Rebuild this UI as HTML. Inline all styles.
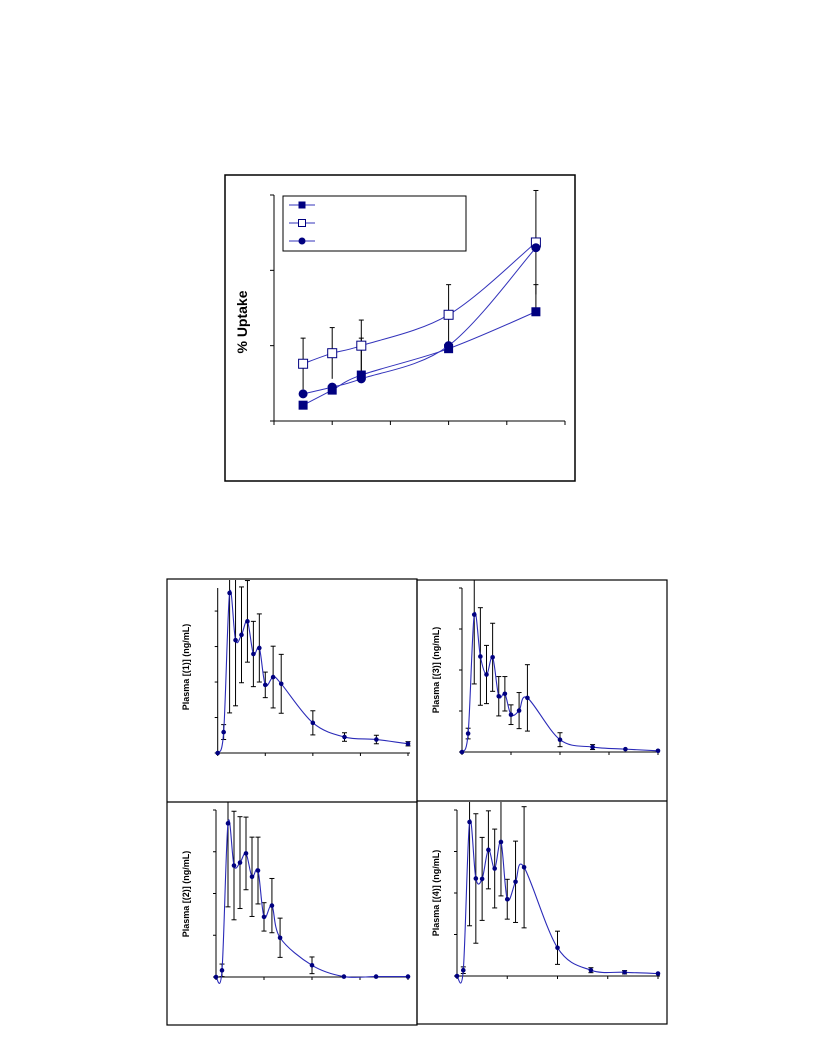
<!DOCTYPE html>
<html><head><meta charset="utf-8">
<style>
html,body{margin:0;padding:0;background:#fff;}
svg{display:block;font-family:"Liberation Sans",Arial,sans-serif;}
</style></head>
<body>
<svg id="s" width="816" height="1056" viewBox="0 0 816 1056" xmlns="http://www.w3.org/2000/svg">
<rect x="225" y="175" width="350" height="306" fill="none" stroke="#000" stroke-width="1.5"/>
<rect x="283" y="196" width="183" height="55" fill="#fff" stroke="#000" stroke-width="1"/>
<text x="0" y="0" transform="translate(247,322) rotate(-90)" text-anchor="middle" font-size="14" font-weight="bold">% Uptake</text>
<rect x="167" y="579" width="250" height="446" fill="none" stroke="#000" stroke-width="1.2"/>
<line x1="167" y1="802" x2="417" y2="802" stroke="#000" stroke-width="1.2"/>
<rect x="417" y="580" width="250" height="444" fill="none" stroke="#000" stroke-width="1.2"/>
<line x1="417" y1="801" x2="667" y2="801" stroke="#000" stroke-width="1.2"/>
</svg>
<script>
// ---- Uptake chart data ----
const uptakeX = [0.5, 1, 1.5, 3, 4.5];
const uptakeFilledSq = [0.21, 0.41, 0.61, 0.96, 1.45];
const uptakeOpenSq = [0.76, 0.90, 1.00, 1.41, 2.37];
const uptakeCircle = [0.36, 0.45, 0.56, 1.00, 2.30];
const uptakeOpenSqErr = [0.34, 0.34, 0.34, 0.40, 0.69];
const uptakeFilledSqErr = [0, 0, 0.49, 0, 0.36];

// ---- Plasma panels data ----
const plasmaTimes = [0, 0.25, 0.5, 0.75, 1, 1.25, 1.5, 1.75, 2, 2.33, 2.67, 4, 5.33, 6.67, 8];
const plasma1 = [0, 0.59, 4.51, 3.18, 3.33, 3.71, 2.79, 2.96, 1.92, 2.14, 1.95, 0.85, 0.45, 0.38, 0.26];
const plasma1Err = [0, 0.21, 3.38, 1.85, 1.35, 1.15, 0.92, 0.96, 0.36, 0.87, 0.83, 0.34, 0.12, 0.12, 0.06];
const plasma3 = [0, 0.45, 3.35, 2.33, 1.89, 2.31, 1.36, 1.42, 0.91, 1.01, 1.32, 0.30, 0.12, 0.07, 0.03];
const plasma3Err = [0, 0.13, 1.69, 1.19, 0.71, 0.83, 0.48, 0.42, 0.24, 0.44, 0.81, 0.17, 0.06, 0.02, 0.02];
const plasma2 = [0, 0.16, 3.68, 2.67, 2.74, 2.96, 2.40, 2.55, 1.44, 1.71, 0.94, 0.28, 0.01, 0.01, 0.01];
const plasma2Err = [0, 0.15, 2.0, 1.3, 1.1, 0.87, 0.95, 0.8, 0.34, 0.65, 0.47, 0.2, 0, 0, 0];
const plasma4 = [0, 0.14, 3.71, 2.35, 2.34, 3.04, 2.59, 3.23, 1.85, 2.27, 2.62, 0.68, 0.14, 0.09, 0.06];
const plasma4Err = [0, 0.08, 2.5, 1.56, 1.0, 0.94, 0.95, 1.3, 0.48, 0.98, 1.46, 0.4, 0.06, 0.04, 0.03];
const plasmaLabels = ["Plasma [(1)] (ng/mL)", "Plasma [(3)] (ng/mL)", "Plasma [(2)] (ng/mL)", "Plasma [(4)] (ng/mL)"];

const NS = "http://www.w3.org/2000/svg";
const svg = document.getElementById("s");
function mk(tag, attrs, parent) {
  const e = document.createElementNS(NS, tag);
  for (const k in attrs) e.setAttribute(k, attrs[k]);
  (parent || svg).appendChild(e);
  return e;
}
function spline(pts) {
  let d = "M" + pts[0][0] + "," + pts[0][1];
  for (let i = 0; i < pts.length - 1; i++) {
    const p0 = pts[Math.max(0, i - 1)], p1 = pts[i], p2 = pts[i + 1], p3 = pts[Math.min(pts.length - 1, i + 2)];
    const t = 1 / 6;
    const c1 = [p1[0] + (p2[0] - p0[0]) * t, p1[1] + (p2[1] - p0[1]) * t];
    const c2 = [p2[0] - (p3[0] - p1[0]) * t, p2[1] - (p3[1] - p1[1]) * t];
    d += " C" + c1[0] + "," + c1[1] + " " + c2[0] + "," + c2[1] + " " + p2[0] + "," + p2[1];
  }
  return d;
}
function errBar(g, x, yTop, yBot, capTop, capBot, clipTop) {
  const top = Math.max(yTop, clipTop);
  const l = mk("line", {x1: x, y1: top, x2: x, y2: yBot, stroke: "#000", "stroke-width": 1}, g);
  
  
  if (capTop && yTop >= clipTop) mk("line", {x1: x - 2.5, y1: yTop, x2: x + 2.5, y2: yTop, stroke: "#000", "stroke-width": 1}, g);
  if (capBot) mk("line", {x1: x - 2.5, y1: yBot, x2: x + 2.5, y2: yBot, stroke: "#000", "stroke-width": 1}, g);
}

// ---- Uptake chart ----
(function () {
  const X0 = 274, X1 = 565, Y0 = 421, YT = 195;
  const xs = v => X0 + v / 5 * (X1 - X0);
  const ys = v => Y0 - v / 3 * (Y0 - YT);
  const g = mk("g", {});
  
  
  const ax = mk("path", {d: `M${X0},${YT} V${Y0} H${X1}`, fill: "none", stroke: "#000", "stroke-width": 1}, g);
  
  
  for (let i = 0; i <= 3; i++) mk("line", {x1: X0 - 4, x2: X0, y1: ys(i), y2: ys(i), stroke: "#000"}, g);
  for (let i = 0; i <= 5; i++) mk("line", {x1: xs(i), x2: xs(i), y1: Y0, y2: Y0 + 4, stroke: "#000"}, g);
  // errors
  uptakeX.forEach((x, i) => {
    const yc = ys(uptakeOpenSq[i]);
    errBar(g, xs(x), ys(uptakeOpenSq[i] + uptakeOpenSqErr[i]), ys(uptakeOpenSq[i] - uptakeOpenSqErr[i]), true, false, 0);
    if (uptakeFilledSqErr[i] > 0) errBar(g, xs(x), ys(uptakeFilledSq[i] + uptakeFilledSqErr[i]), ys(uptakeFilledSq[i]), true, false, 0);
  });
  const series = [[uptakeFilledSq, "fsq"], [uptakeOpenSq, "osq"], [uptakeCircle, "circ"]];
  series.forEach(([vals, kind]) => {
    const pts = uptakeX.map((x, i) => [xs(x), ys(vals[i])]);
    const p = mk("path", {d: spline(pts), fill: "none", stroke: "#3333bb", "stroke-width": 1}, g);
    
    
    pts.forEach(pt => {
      let m;
      if (kind === "fsq") m = mk("rect", {x: pt[0] - 4.5, y: pt[1] - 4.5, width: 9, height: 9, fill: "#000080"}, g);
      else if (kind === "osq") m = mk("rect", {x: pt[0] - 4.5, y: pt[1] - 4.5, width: 9, height: 9, fill: "#fff", stroke: "#000080", "stroke-width": 1}, g);
      else m = mk("circle", {cx: pt[0], cy: pt[1], r: 4.5, fill: "#000080"}, g);
      
      
    });
  });
  // legend entries
  const ly = [205, 223, 241];
  ["fsq", "osq", "circ"].forEach((kind, i) => {
    mk("line", {x1: 289, x2: 315, y1: ly[i], y2: ly[i], stroke: "#3333bb", "stroke-width": 1});
    let m;
    if (kind === "fsq") m = mk("rect", {x: 298.5, y: ly[i] - 3.5, width: 7, height: 7, fill: "#000080"});
    else if (kind === "osq") m = mk("rect", {x: 298.5, y: ly[i] - 3.5, width: 7, height: 7, fill: "#fff", stroke: "#000080"});
    else m = mk("circle", {cx: 302, cy: ly[i], r: 3.5, fill: "#000080"});
    
    
  });
})();

// ---- Plasma panels ----
function panel(idx, vals, errs, X0, X1, Y0, YT, ymax, labelX, labelY) {
  const xs = t => X0 + t / 8 * (X1 - X0);
  const tickPx = (Y0 - YT) / ymax;
  const ys = v => Y0 - v * tickPx;
  const g = mk("g", {});
  
  
  const ax = mk("path", {d: `M${X0},${YT} V${Y0} H${X1 + 2}`, fill: "none", stroke: "#000", "stroke-width": 1}, g);
  
  
  for (let v = 0; ys(v) >= YT - 0.5; v++) mk("line", {x1: X0 - 3, x2: X0, y1: ys(v), y2: ys(v), stroke: "#000"}, g);
  for (let t = 0; t <= 8; t += 2) mk("line", {x1: xs(t), x2: xs(t), y1: Y0, y2: Y0 + 3, stroke: "#000"}, g);
  plasmaTimes.forEach((t, i) => {
    if (errs[i] > 0.03) errBar(g, xs(t), ys(vals[i] + errs[i]), ys(vals[i] - errs[i]), true, true, YT - 8);
  });
  const pts = plasmaTimes.map((t, i) => [xs(t), ys(vals[i])]);
  const p = mk("path", {d: spline(pts), fill: "none", stroke: "#2a2ab8", "stroke-width": 1.1}, g);
  
  
  pts.forEach(pt => {
    const c = mk("circle", {cx: pt[0], cy: pt[1], r: 2.3, fill: "#000080"}, g);
    
    
  });
  const tx = mk("text", {transform: `translate(${labelX},${labelY}) rotate(-90)`, "text-anchor": "middle", "font-size": "9", "font-weight": "bold"}, g);
  tx.textContent = plasmaLabels[idx];
  
  
}
panel(0, plasma1, plasma1Err, 217.7, 408, 753, 588, 4.65, 189, 667);
panel(1, plasma3, plasma3Err, 462, 658, 752, 588, 4, 439, 670);
panel(2, plasma2, plasma2Err, 216, 408, 977, 810, 4, 189, 894);
panel(3, plasma4, plasma4Err, 457, 658, 976, 810, 4, 439, 893);
</script>
</body></html>
